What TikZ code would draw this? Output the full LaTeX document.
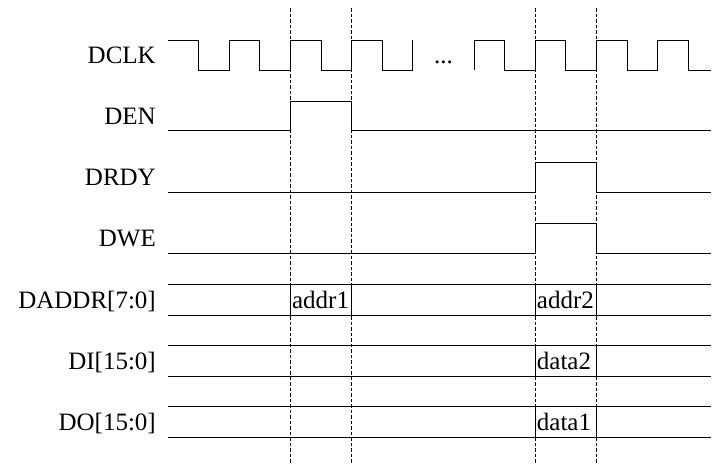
\documentclass[tikz,border=0pt]{standalone}
\usepackage{fontspec}
\setmainfont{Liberation Serif}
\usetikzlibrary{calc}
\tikzset{
  sig_lbl/.style={anchor=base east,inner sep=0pt,font=\fontsize{25}{30}\selectfont},
  val_lbl/.style={anchor=base west,inner sep=0pt,font=\fontsize{25}{30}\selectfont},
  wave/.style={draw=black,line width=0.9pt,line join=miter},
  cyc_mark/.style={draw=black,line width=0.9pt,dash pattern=on 3.5pt off 2pt},
}
\newcommand{\hp}{30.6}                 % half a DCLK period
\newcommand{\tk}[1]{(168+(#1)*\hp)}    % time of DCLK edge #1

\begin{document}
\begin{tikzpicture}[x=1pt,y=-1pt]
  \useasboundingbox (0,0) rectangle (712,464);
  % signal names
  \node (dclk) [sig_lbl] at (156,63.3)  {DCLK};
  \node (den)  [sig_lbl] at (156,124.5) {DEN};
  \node (drdy) [sig_lbl] at (156,185.7) {DRDY};
  \node (dwe)  [sig_lbl] at (156,246.9) {DWE};
  \node (daddr)[sig_lbl] at (156,308.1) {DADDR[7:0]};
  \node (din)  [sig_lbl] at (156,369.3) {DI[15:0]};
  \node (dout) [sig_lbl] at (156,430.5) {DO[15:0]};
  % cycle markers
  \foreach \k in {4,6,12,14}
    \draw[cyc_mark] ({\tk{\k}},8) -- ({\tk{\k}},464);
  % DCLK, with a gap
  \draw[wave] (168,40) \foreach \k in {1,3,5,7}
    {-- ({\tk{\k}},40) -- ({\tk{\k}},70) -- ({\tk{\k+1}},70) -- ({\tk{\k+1}},40)};
  \node (gap) [val_lbl,anchor=base] at ({\tk{9}},63) {...};
  \draw[wave] ({\tk{10}},70) \foreach \k in {10,12,14}
    {-- ({\tk{\k}},40) -- ({\tk{\k+1}},40) -- ({\tk{\k+1}},70) -- ({\tk{\k+2}},70)}
    -- ({\tk{16}},40) -- ({\tk{17}},40) -- ({\tk{17}},70) -- (711,70);
  % DEN, DRDY, DWE
  \draw[wave] (168,130.7) -- ({\tk{4}},130.7) -- ({\tk{4}},101.2)
    -- ({\tk{6}},101.2) -- ({\tk{6}},130.7) -- (711,130.7);
  \draw[wave] (168,192) -- ({\tk{12}},192) -- ({\tk{12}},162.4)
    -- ({\tk{14}},162.4) -- ({\tk{14}},192) -- (711,192);
  \draw[wave] (168,253.6) -- ({\tk{12}},253.6) -- ({\tk{12}},223.6)
    -- ({\tk{14}},223.6) -- ({\tk{14}},253.6) -- (711,253.6);
  % buses
  \foreach \y in {299.8,361,422.2}
    \draw[wave] (168,\y-15.5) -- (711,\y-15.5) (168,\y+15.5) -- (711,\y+15.5);
  \draw[wave] ({\tk{4}},284.3) rectangle ({\tk{6}},315.3);
  \foreach \y in {299.8,361,422.2}
    \draw[wave] ({\tk{12}},\y-15.5) rectangle ({\tk{14}},\y+15.5);
  \node (addr1) [val_lbl] at ({\tk{4}+1.5},308)   {addr1};
  \node (addr2) [val_lbl] at ({\tk{12}+1.5},308)  {addr2};
  \node (data2) [val_lbl] at ({\tk{12}+1.5},369.2) {data2};
  \node (data1) [val_lbl] at ({\tk{12}+1.5},430.4) {data1};
\end{tikzpicture}
\end{document}
